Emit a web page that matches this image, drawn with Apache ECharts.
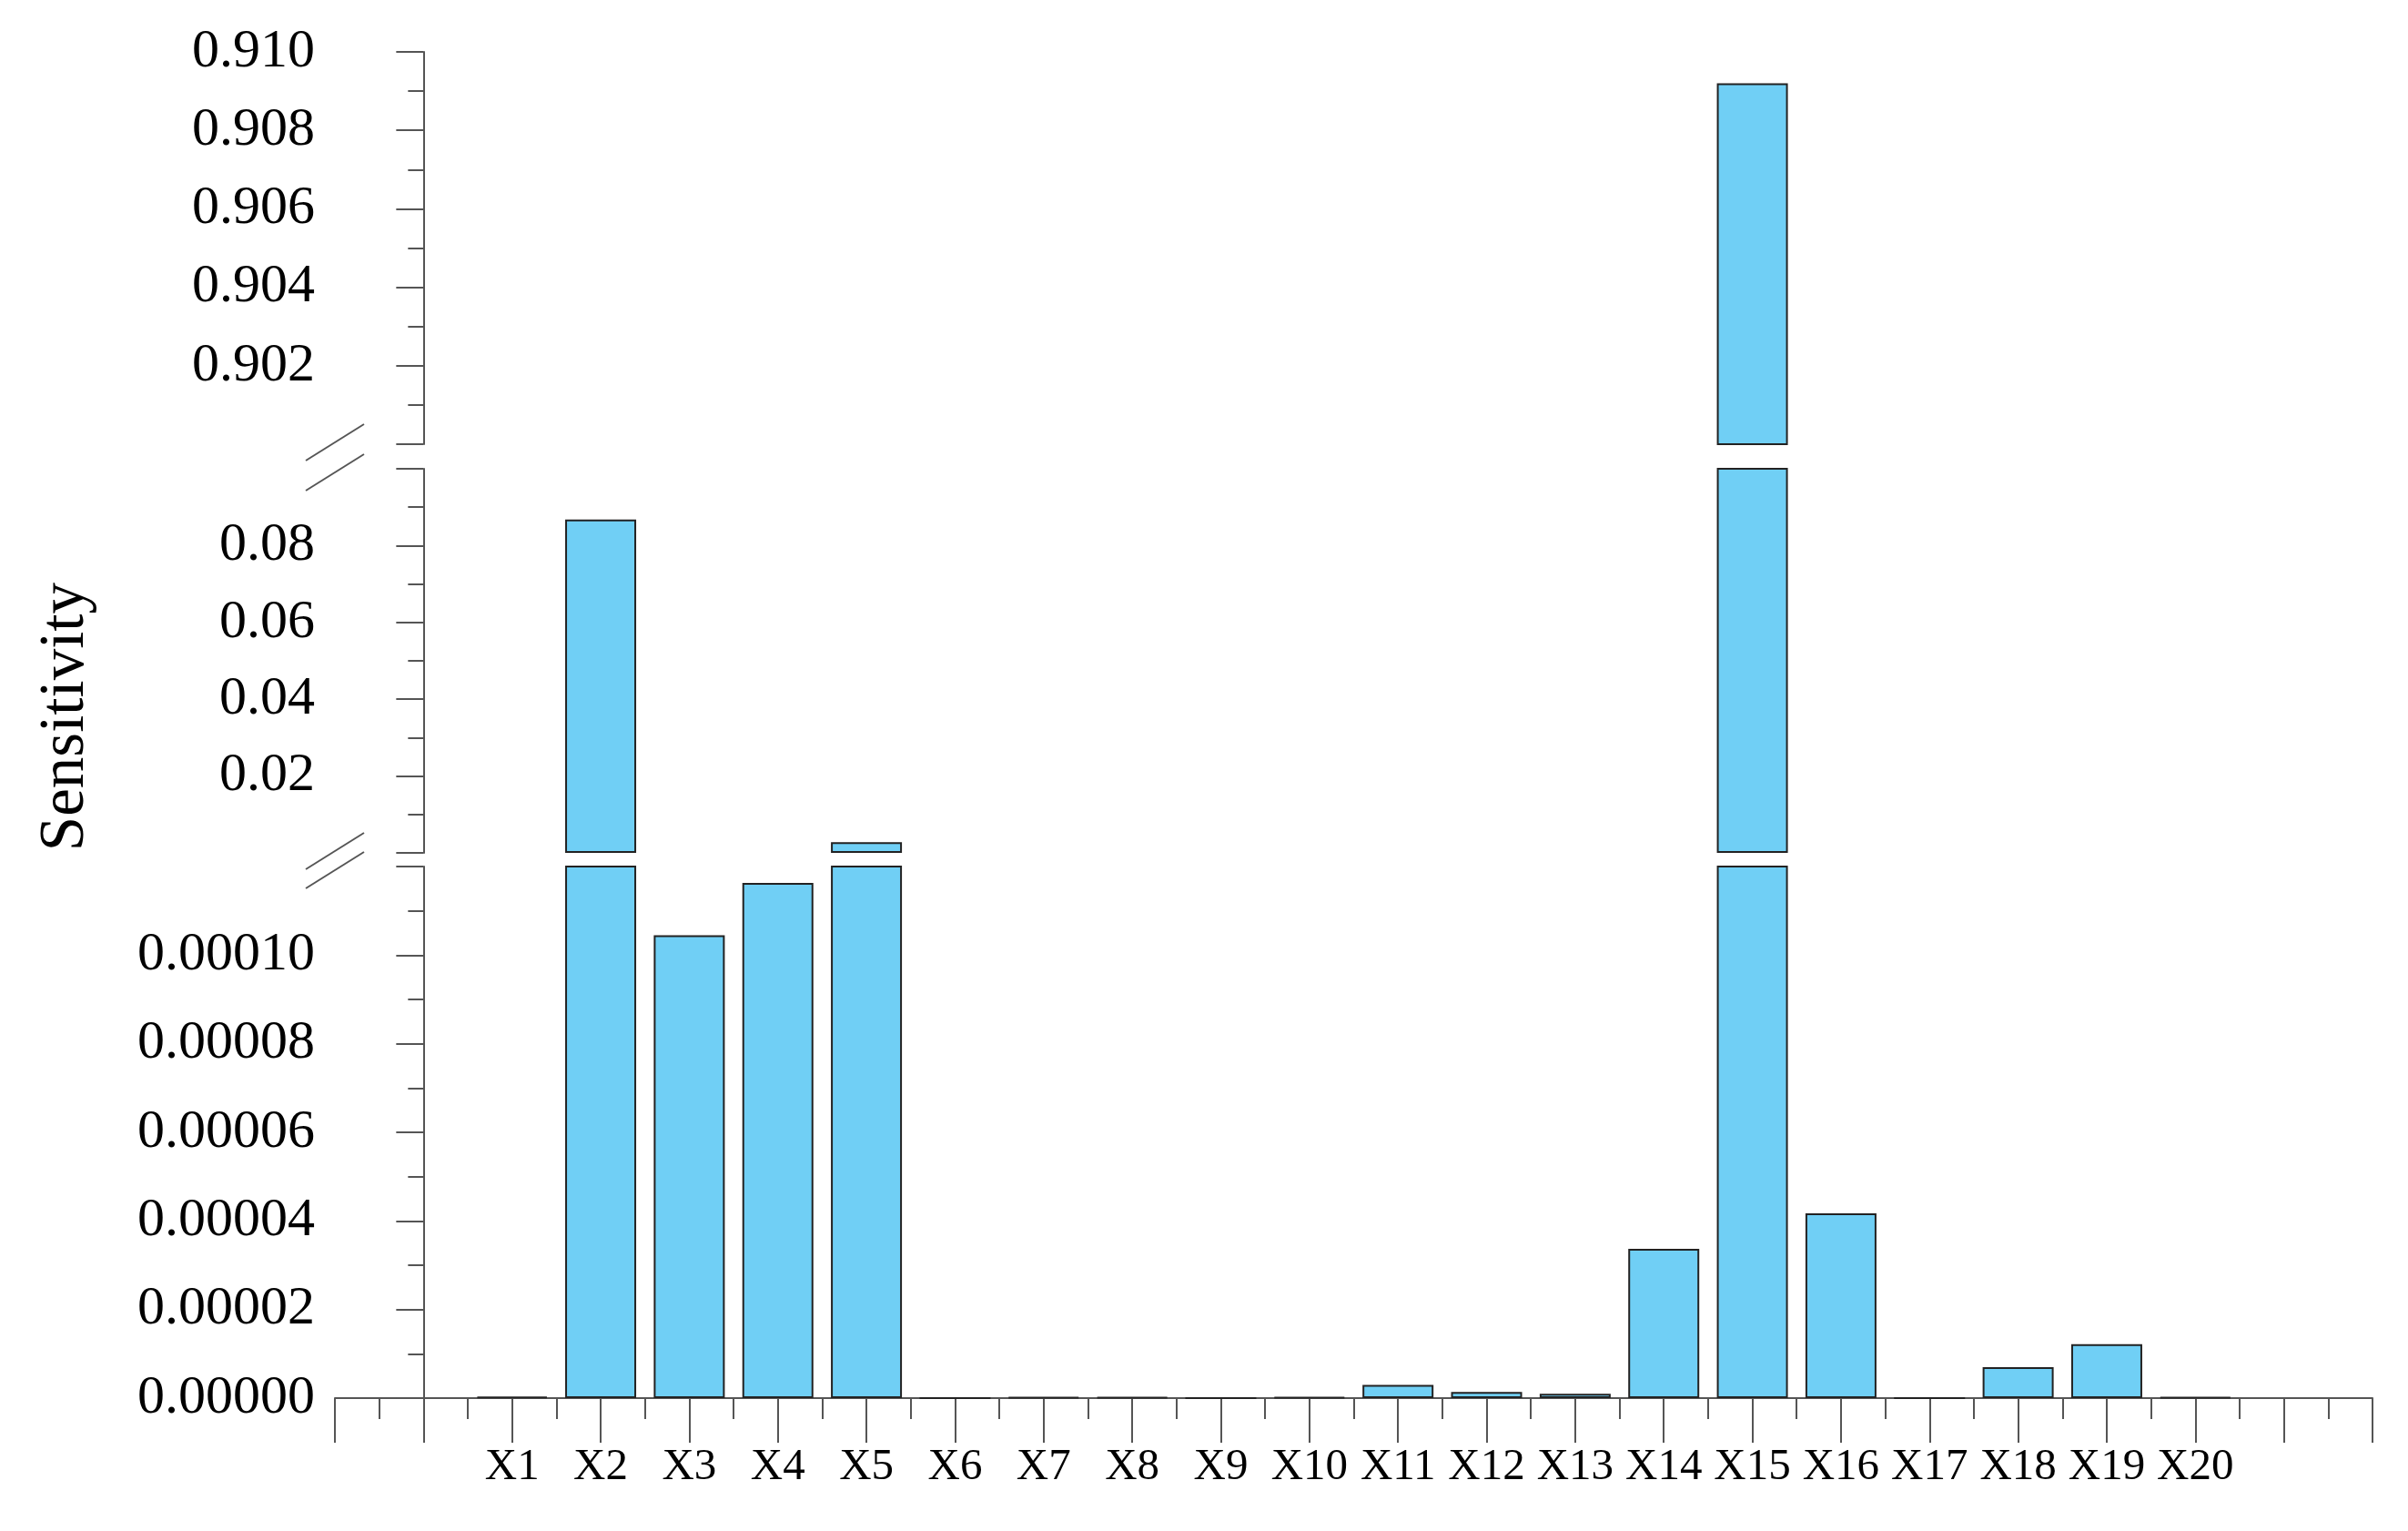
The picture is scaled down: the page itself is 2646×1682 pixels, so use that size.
<!DOCTYPE html>
<html>
<head>
<meta charset="utf-8">
<script src="https://cdn.jsdelivr.net/npm/echarts@6/dist/echarts.min.js"></script>
<style>html,body{margin:0;padding:0;background:#fff}#chart{width:2646px;height:1682px}</style>
</head>
<body>
<div id="chart"></div>
<script>
// variable names and sensitivities
var names = ['X1','X2','X3','X4','X5','X6','X7','X8','X9','X10','X11','X12','X13','X14','X15','X16','X17','X18','X19','X20'];
var sens = [0.0000003, 0.0868, 0.0001045, 0.0001163, 0.0028, 0, 0.0000002, 0.0000002, 0, 0.0000002,
            0.000003, 0.0000014, 0.000001, 0.0000337, 0.9092, 0.0000417, 0, 0.000007, 0.0000122, 0.0000002];

var lowMax = 0.00012, midMax = 0.1;
var fnt = 'Liberation Serif';
var axisCol = '#555';

function pts(filterMin){
	var out = [];
	for(var i=0;i<sens.length;i++){
		out.push([i+1, sens[i] > filterMin ? sens[i] : null]);
	}
	return out;
}

var grids = [
	{left:368, right:39, top:57, height:431},   // 0.900 - 0.910
	{left:368, right:39, top:515, height:422},  // 0 - 0.1
	{left:368, right:39, top:952, height:584}   // 0 - 0.00012
];

function xAx(idx, show){
	return {
		type:'value', gridIndex:idx, min:-1, max:22, interval:1,
		axisLine:{show:show, onZero:false, lineStyle:{color:axisCol, width:2}},
		axisTick:{show:show, length:49, lineStyle:{color:axisCol, width:2}},
		minorTick:{show:show, splitNumber:2, length:23, lineStyle:{color:axisCol, width:2}},
		splitLine:{show:false},
		axisLabel:{show:show, margin:52, fontFamily:fnt, fontSize:49, color:'#000',
			formatter:function(v){ return (v>=1 && v<=names.length) ? names[v-1] : ''; }}
	};
}
function yAx(idx, min, max, interval, dec, hideMin, hideMax){
	return {
		type:'value', gridIndex:idx, min:min, max:max, interval:interval,
		axisLine:{show:true, lineStyle:{color:axisCol, width:2}},
		axisTick:{show:true, length:30, lineStyle:{color:axisCol, width:2}},
		minorTick:{show:true, splitNumber:2, length:17, lineStyle:{color:axisCol, width:2}},
		splitLine:{show:false},
		axisLabel:{margin:22, fontFamily:fnt, fontSize:60, color:'#000',
			formatter:function(v){
				if(hideMin && Math.abs(v-min)<interval/10) return '';
				if(hideMax && Math.abs(v-max)<interval/10) return '';
				return v.toFixed(dec);
			}}
	};
}

function barSeries(idx, filterMin){
	return {
		type:'bar', xAxisIndex:idx, yAxisIndex:idx, barWidth:78, clip:true,
		itemStyle:{color:'#70CFF5', borderColor:'#222', borderWidth:2},
		data:pts(filterMin), animation:false
	};
}

// break marks on the y axis
function slash(x, y){
	return {type:'line', shape:{x1:x-32, y1:y+20, x2:x+32, y2:y-20}, style:{stroke:axisCol, lineWidth:2}};
}
var breaks = [];
[[488, 515], [937, 952]].forEach(function(b){
	breaks.push(slash(368, b[0]-2));
	breaks.push(slash(368, b[1]+4));
});

var chart = echarts.init(document.getElementById('chart'));
chart.setOption({
	animation:false,
	grid:grids,
	xAxis:[xAx(0,false), xAx(1,false), xAx(2,true)],
	yAxis:[
		yAx(0, 0.900, 0.910, 0.002, 3, true, false),
		yAx(1, 0, midMax, 0.02, 2, true, true),
		yAx(2, 0, lowMax, 0.00002, 5, false, true)
	],
	series:[barSeries(0, 0.9), barSeries(1, lowMax), barSeries(2, -1)],
	graphic:breaks.concat([{
		type:'text', left:38, top:640, rotation:Math.PI/2,
		style:{text:'Sensitivity', font:'69px "Liberation Serif"', fill:'#000'}
	}])
});
</script>
</body>
</html>
